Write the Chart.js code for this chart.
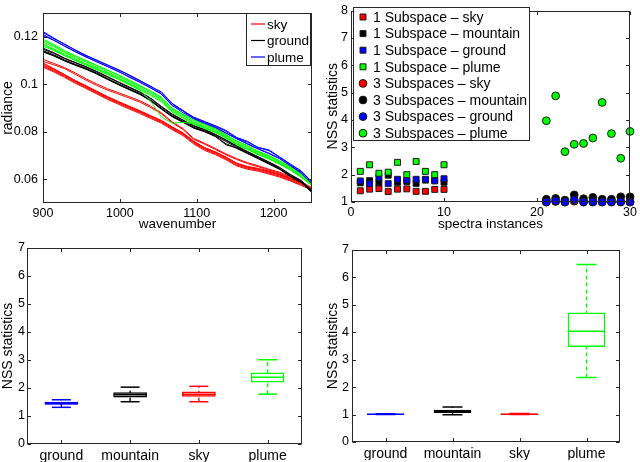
<!DOCTYPE html>
<html>
<head>
<meta charset="utf-8">
<script src="https://cdn.jsdelivr.net/npm/chart.js@4/dist/chart.umd.min.js"></script>
<style>
  html, body { margin: 0; padding: 0; background: #fff; }
  #fig { position: relative; width: 640px; height: 462px; overflow: hidden; }
  canvas { position: absolute; }
  #spectra { left: 0; top: 0; }
  #nss { left: 320px; top: 0; }
  #box1 { left: 0; top: 230px; background: #fff; }
  #box3 { left: 320px; top: 230px; background: #fff; }
</style>
</head>
<body>
<div id="fig">
  <canvas id="spectra" width="320" height="232"></canvas>
  <canvas id="nss" width="320" height="232"></canvas>
  <canvas id="box1" width="320" height="232"></canvas>
  <canvas id="box3" width="320" height="232"></canvas>
</div>
<script>
// ---- top left: radiance spectra ----
const waveNum = [900, 914, 928, 942, 956, 970, 984, 998, 1012, 1026, 1040, 1054, 1068,
  1082, 1096, 1110, 1124, 1138, 1152, 1166, 1180, 1194, 1208, 1222, 1236, 1250];
const waveTicks = [900, 1000, 1100, 1200];
const radTicks = [0.06, 0.08, 0.1, 0.12];
const radTickLabels = ['0.06', '0.08', '0.1', '0.12'];
const spectraLegend = ['sky', 'ground', 'plume'];

const skyLines = [
  [.1105, .1088, .1070, .1048, .1023, .1001, .0981, .0965, .0948, .0931, .0908, .0880, .0842, .0814, .0772, .0752, .0730, .0707, .0687, .0670, .0657, .0642, .0630, .0610, .0590, .0564],
  [.1096, .1082, .1066, .1042, .1017, .0995, .0975, .0959, .0942, .0925, .0902, .0876, .0838, .0810, .0768, .0748, .0726, .0703, .0683, .0666, .0653, .0638, .0626, .0606, .0586, .0560],
  [.1085, .1064, .1041, .1016, .0994, .0971, .0948, .0928, .0908, .0889, .0868, .0848, .0821, .0796, .0761, .0734, .0716, .0694, .0668, .0654, .0646, .0634, .0621, .0604, .0586, .0560],
  [.1080, .1060, .1037, .1012, .0990, .0967, .0944, .0924, .0904, .0885, .0864, .0844, .0817, .0792, .0757, .0730, .0712, .0690, .0664, .0650, .0642, .0630, .0617, .0600, .0582, .0558],
  [.1076, .1056, .1033, .1008, .0986, .0963, .0940, .0920, .0900, .0881, .0860, .0840, .0813, .0788, .0753, .0726, .0708, .0686, .0660, .0646, .0638, .0626, .0613, .0596, .0578, .0556],
  [.1072, .1052, .1029, .1004, .0982, .0959, .0936, .0916, .0896, .0877, .0856, .0836, .0809, .0784, .0749, .0722, .0704, .0682, .0656, .0642, .0634, .0622, .0609, .0592, .0574, .0554],
  [.1090, .1066, .1040, .1014, .0991, .0968, .0946, .0925, .0906, .0886, .0866, .0846, .0819, .0794, .0758, .0732, .0714, .0692, .0667, .0652, .0644, .0632, .0619, .0602, .0584, .0559]
];
const groundLines = [
  [.1148, .1130, .1108, .1090, .1072, .1052, .1030, .1008, .0986, .0966, .0940, .0904, .0872, .0848, .0824, .0808, .0788, .0764, .0738, .0715, .0693, .0671, .0648, .0618, .0593, .0550],
  [.1142, .1124, .1102, .1084, .1067, .1047, .1024, .1002, .0981, .0961, .0934, .0899, .0867, .0844, .0819, .0804, .0784, .0759, .0734, .0711, .0689, .0667, .0644, .0614, .0589, .0547],
  [.1136, .1119, .1098, .1080, .1063, .1043, .1020, .0998, .0977, .0957, .0930, .0895, .0863, .0840, .0815, .0800, .0780, .0750, .0730, .0708, .0686, .0664, .0641, .0611, .0586, .0544],
  [.1152, .1133, .1110, .1092, .1074, .1054, .1032, .1010, .0989, .0968, .0942, .0907, .0875, .0850, .0826, .0810, .0790, .0766, .0741, .0717, .0695, .0673, .0650, .0620, .0595, .0552],
  [.1139, .1121, .1100, .1082, .1065, .1045, .1022, .1000, .0979, .0959, .0932, .0897, .0865, .0842, .0817, .0802, .0782, .0745, .0732, .0710, .0688, .0666, .0643, .0613, .0588, .0545]
];
const greenLines = [
  [.1185, .1163, .1138, .1118, .1098, .1078, .1058, .1038, .1015, .0992, .0970, .0942, .0898, .0872, .0848, .0830, .0812, .0786, .0760, .0740, .0716, .0698, .0676, .0650, .0620, .0582],
  [.1178, .1158, .1133, .1112, .1093, .1072, .1052, .1032, .1010, .0987, .0964, .0937, .0892, .0868, .0842, .0824, .0807, .0782, .0754, .0734, .0712, .0694, .0672, .0647, .0617, .0579],
  [.1170, .1150, .1126, .1106, .1086, .1066, .1046, .1026, .1004, .0982, .0958, .0931, .0887, .0862, .0837, .0819, .0802, .0777, .0749, .0729, .0707, .0689, .0667, .0642, .0612, .0576],
  [.1165, .1146, .1122, .1102, .1084, .1064, .1045, .1024, .1000, .0975, .0930, .0862, .0836, .0840, .0834, .0816, .0800, .0775, .0748, .0727, .0705, .0686, .0665, .0640, .0610, .0574],
  [.1190, .1168, .1142, .1120, .1100, .1080, .1060, .1040, .1018, .0995, .0972, .0946, .0900, .0874, .0850, .0832, .0814, .0788, .0762, .0742, .0718, .0700, .0678, .0652, .0622, .0584],
  [.1160, .1142, .1120, .1100, .1080, .1060, .1040, .1020, .0998, .0976, .0953, .0926, .0882, .0857, .0832, .0814, .0797, .0772, .0745, .0725, .0703, .0685, .0663, .0638, .0608, .0572]
];
const plumeLines = [
  [.1218, .1192, .1170, .1143, .1120, .1102, .1080, .1062, .1038, .1015, .0992, .0965, .0918, .0888, .0862, .0842, .0826, .0806, .0776, .0760, .0733, .0720, .0693, .0664, .0635, .0588],
  [.1210, .1186, .1162, .1138, .1114, .1095, .1074, .1055, .1030, .1008, .0985, .0958, .0910, .0888, .0855, .0836, .0818, .0794, .0772, .0748, .0727, .0708, .0686, .0656, .0626, .0582],
  [.1222, .1195, .1168, .1145, .1122, .1100, .1082, .1060, .1040, .1016, .0990, .0968, .0920, .0890, .0860, .0844, .0824, .0802, .0774, .0756, .0734, .0724, .0694, .0662, .0632, .0590],
  [.1205, .1185, .1160, .1136, .1116, .1094, .1075, .1053, .1032, .1010, .0984, .0960, .0912, .0880, .0856, .0838, .0820, .0795, .0770, .0750, .0728, .0710, .0688, .0658, .0628, .0580]
];

// ---- top right: NSS statistics per spectrum ----
const inst1 = [1, 2, 3, 4, 5, 6, 7, 8, 9, 10];
const inst3 = [21, 22, 23, 24, 25, 26, 27, 28, 29, 30];
const nss1Sky = [1.41, 1.47, 1.49, 1.38, 1.47, 1.48, 1.39, 1.39, 1.46, 1.46];
const nss1Mountain = [1.70, 1.78, 1.70, 1.98, 1.72, 1.75, 1.68, 1.80, 1.80, 1.72];
const nss1Ground = [1.77, 1.67, 1.89, 1.67, 1.83, 1.80, 1.83, 1.83, 1.77, 1.85];
const nss1Plume = [2.12, 2.36, 2.05, 2.09, 2.45, 2.00, 2.48, 2.12, 2.00, 2.36];
const nss3Sky = [1.00, 1.02, 1.00, 1.03, 1.00, 1.00, 1.00, 1.00, 1.00, 1.00];
const nss3Mountain = [1.10, 1.13, 1.07, 1.26, 1.12, 1.17, 1.10, 1.10, 1.19, 1.19];
const nss3Ground = [1.00, 1.04, 1.00, 1.08, 1.00, 1.01, 1.00, 1.00, 1.01, 1.00];
const nss3Plume = [3.97, 4.88, 2.84, 3.11, 3.14, 3.34, 4.64, 3.50, 2.60, 3.58];
const instTicks = [0, 10, 20, 30];
const nssTicks = [1, 2, 3, 4, 5, 6, 7, 8];

// ---- bottom: box plots ----
const boxCats = ['ground', 'mountain', 'sky', 'plume'];
const boxTicks = [0, 1, 2, 3, 4, 5, 6, 7];
const lo1 = [1.31, 1.51, 1.51, 1.78];
const q1a = [1.41, 1.67, 1.70, 2.21];
const med1 = [1.45, 1.76, 1.78, 2.38];
const q3a = [1.50, 1.84, 1.86, 2.54];
const hi1 = [1.58, 2.03, 2.06, 3.01];
const lo3 = [1.00, 0.99, 1.00, 2.35];
const q1b = [1.00, 1.07, 1.00, 3.48];
const med3 = [1.01, 1.12, 1.01, 4.04];
const q3b = [1.02, 1.16, 1.03, 4.71];
const hi3 = [1.03, 1.28, 1.04, 6.47];

const RED = '#ff0000', BLACK = '#000000', BLUE = '#0000ff', GREEN = '#00ff00';
const boxColors = [BLUE, BLACK, RED, GREEN];
const FONT = '"Liberation Sans", Arial, Helvetica, sans-serif';

// legend entries per canvas (kept outside the chart options)
const legendItems = {
  spectra: spectraLegend.map((t, i) => ({ text: t, color: [RED, BLACK, BLUE][i], style: 'line' }))
};

Chart.defaults.font.family = FONT;
Chart.defaults.color = '#000';
Chart.defaults.animation = false;

// MATLAB style box with inward ticks on all four sides
const matlabAxes = {
  id: 'matlabAxes',
  afterDatasetsDraw(chart) {
    const { ctx, chartArea: a, scales } = chart;
    const len = 3.5;
    const L = Math.round(a.left) + .5, R = Math.round(a.right) - .5;
    const T = Math.round(a.top) + .5, B = Math.round(a.bottom) - .5;
    ctx.save();
    ctx.strokeStyle = '#262626';
    ctx.lineWidth = 1;
    ctx.beginPath();
    scales.x.ticks.forEach((t, i) => {
      const px = Math.round(scales.x.getPixelForTick(i)) + .5;
      ctx.moveTo(px, B); ctx.lineTo(px, B - len);
      ctx.moveTo(px, T); ctx.lineTo(px, T + len);
    });
    scales.y.ticks.forEach((t, i) => {
      const py = Math.round(scales.y.getPixelForTick(i)) + .5;
      ctx.moveTo(L, py); ctx.lineTo(L + len, py);
      ctx.moveTo(R, py); ctx.lineTo(R - len, py);
    });
    ctx.stroke();
    ctx.strokeRect(L, T, R - L, B - T);
    ctx.restore();
  }
};

// boxed legend drawn inside the axes
const matlabLegend = {
  id: 'matlabLegend',
  afterDraw(chart, args, o) {
    const ctx = chart.ctx;
    const items = legendItems[chart.canvas.id] || chart.data.datasets.filter(d => d.label).map(d => ({
      text: d.label, color: d.backgroundColor, style: d.pointStyle
    }));
    ctx.save();
    ctx.fillStyle = '#fff';
    ctx.fillRect(o.left, o.top, o.width, o.height);
    ctx.strokeStyle = '#262626';
    ctx.lineWidth = 1;
    ctx.strokeRect(o.left + .5, o.top + .5, o.width, o.height);
    ctx.font = o.fontSize + 'px ' + FONT;
    ctx.textBaseline = 'middle';
    items.forEach((it, i) => {
      const cy = o.top + o.firstRow + i * o.rowStep;
      if (it.style === 'line') {
        ctx.strokeStyle = it.color;
        ctx.lineWidth = 1.2;
        ctx.beginPath();
        ctx.moveTo(o.left + o.markerFrom, cy);
        ctx.lineTo(o.left + o.markerTo, cy);
        ctx.stroke();
      } else {
        ctx.fillStyle = it.color;
        ctx.strokeStyle = '#1a1a1a';
        ctx.lineWidth = 1;
        Chart.helpers.drawPoint(ctx, { pointStyle: it.style, radius: it.style === 'rect' ? 4.2 : 3.9, borderWidth: 1, rotation: 0 },
          o.left + o.markerFrom, cy);
      }
      ctx.fillStyle = '#000';
      ctx.fillText(it.text, o.left + o.textX, cy + 1);
    });
    ctx.restore();
  }
};

function tickList(list) {
  return s => { s.ticks = list.map(v => ({ value: v })); };
}

function axisX(extra, height, title, tickSize) {
  return Object.assign({
    afterFit: s => { s.height = height; },
    grid: { display: false, drawTicks: false },
    border: { display: false },
    ticks: { padding: 3, autoSkip: false, maxRotation: 0, font: { size: tickSize || 12.5 }, callback: v => String(v) },
    title: { display: !!title, text: title, padding: 0, font: { size: 13.5 } }
  }, extra);
}

function axisY(extra, width, pad, title, titlePad) {
  return Object.assign({
    afterFit: s => { s.width = width; },
    grid: { display: false, drawTicks: false },
    border: { display: false },
    ticks: { padding: pad, autoSkip: false, font: { size: 12.5 } },
    title: { display: true, text: title, padding: { top: titlePad, bottom: 0 }, font: { size: 14 } }
  }, extra);
}

const baseOpts = { responsive: false, events: [] };

// ---------- top left ----------
function lineSet(lines, color, order) {
  return lines.map(vals => ({
    data: waveNum.map((w, k) => ({ x: w, y: vals[k] })),
    borderColor: color, borderWidth: 1, pointRadius: 0, fill: false, order: order
  }));
}

new Chart(document.getElementById('spectra'), {
  type: 'line',
  data: {
    datasets: [].concat(
      lineSet(skyLines, RED, 4),
      lineSet(groundLines, BLACK, 3),
      lineSet(greenLines, GREEN, 2),
      lineSet(plumeLines, BLUE, 1)
    )
  },
  options: Object.assign({}, baseOpts, {
    layout: { padding: { top: 13, right: 8, left: 0, bottom: 0 } },
    plugins: {
      legend: { display: false }, tooltip: { enabled: false },
      matlabLegend: {
        left: 246, top: 13, width: 64, height: 52, firstRow: 11, rowStep: 16.5,
        markerFrom: 5, markerTo: 19, textX: 21, fontSize: 13.5
      }
    },
    scales: {
      x: axisX({ type: 'linear', min: 900, max: 1250, afterBuildTicks: tickList(waveTicks) }, 29, 'wavenumber'),
      y: axisY({
        min: 0.05, max: 0.13, afterBuildTicks: tickList(radTicks),
        ticks: { padding: 5, autoSkip: false, font: { size: 12.5 }, callback: (v, i) => radTickLabels[i] }
      }, 43, 5, 'radiance', 0)
    }
  }),
  plugins: [matlabAxes, matlabLegend]
});

// ---------- top right ----------
function scatterSet(label, xs, ys, color, style, order) {
  return {
    label: label,
    data: xs.map((x, i) => ({ x: x, y: ys[i] })),
    backgroundColor: color, borderColor: '#1a1a1a', borderWidth: 1,
    pointStyle: style, pointRadius: style === 'rect' ? 4.2 : 3.9, clip: false, order: order
  };
}

new Chart(document.getElementById('nss'), {
  type: 'scatter',
  data: {
    datasets: [
      scatterSet('1 Subspace – sky', inst1, nss1Sky, RED, 'rect', 8),
      scatterSet('1 Subspace – mountain', inst1, nss1Mountain, BLACK, 'rect', 7),
      scatterSet('1 Subspace – ground', inst1, nss1Ground, BLUE, 'rect', 6),
      scatterSet('1 Subspace – plume', inst1, nss1Plume, GREEN, 'rect', 5),
      scatterSet('3 Subspaces – sky', inst3, nss3Sky, RED, 'circle', 4),
      scatterSet('3 Subspaces – mountain', inst3, nss3Mountain, BLACK, 'circle', 3),
      scatterSet('3 Subspaces – ground', inst3, nss3Ground, BLUE, 'circle', 2),
      scatterSet('3 Subspaces – plume', inst3, nss3Plume, GREEN, 'circle', 1)
    ]
  },
  options: Object.assign({}, baseOpts, {
    layout: { padding: { top: 8, right: 8, left: 0, bottom: 0 } },
    plugins: {
      legend: { display: false }, tooltip: { enabled: false },
      matlabLegend: {
        left: 33, top: 7, width: 176, height: 133, firstRow: 10, rowStep: 16.6,
        markerFrom: 10, textX: 20, fontSize: 14
      }
    },
    scales: {
      x: axisX({ type: 'linear', min: 0, max: 30, afterBuildTicks: tickList(instTicks) }, 30, 'spectra instances'),
      y: axisY({ min: 1, max: 8, afterBuildTicks: tickList(nssTicks) }, 31, 3, 'NSS statistics', 4.6)
    }
  }),
  plugins: [matlabAxes, matlabLegend]
});

// ---------- bottom box plots ----------
function boxDatasets(lo, q1, med, q3, hi, boxW, capR) {
  const ds = [];
  boxCats.forEach((c, i) => {
    ds.push({
      type: 'line', data: [{ x: c, y: lo[i] }, { x: c, y: hi[i] }],
      borderColor: boxColors[i], borderWidth: 1.4, borderDash: [4, 3], pointRadius: 0, order: 3
    });
    ds.push({
      type: 'line', data: [{ x: c, y: lo[i] }, { x: c, y: hi[i] }], showLine: false,
      pointStyle: 'line', pointRadius: capR, pointBorderColor: boxColors[i], pointBorderWidth: 1.5, order: 1
    });
  });
  ds.push({
    type: 'bar', data: boxCats.map((c, i) => [q1[i], q3[i]]),
    backgroundColor: '#fff', borderColor: boxColors, borderWidth: 1.5, borderSkipped: false,
    barThickness: boxW, order: 2
  });
  ds.push({
    type: 'line', data: boxCats.map((c, i) => ({ x: c, y: med[i] })), showLine: false,
    pointStyle: 'line', pointRadius: boxW / 2, pointBorderColor: boxColors, pointBorderWidth: 1.5, order: 1
  });
  return ds;
}

function boxChart(id, sets, yWidth, yPad, padRight) {
  new Chart(document.getElementById(id), {
    type: 'bar',
    data: { labels: boxCats, datasets: sets },
    options: Object.assign({}, baseOpts, {
      layout: { padding: { top: 15, right: padRight, left: 0, bottom: 0 } },
      plugins: { legend: { display: false }, tooltip: { enabled: false } },
      scales: {
        x: axisX({ type: 'category', offset: true, ticks: { padding: 4, autoSkip: false, maxRotation: 0, font: { size: 14 } } }, 18, ''),
        y: axisY({ min: 0, max: 7, afterBuildTicks: tickList(boxTicks) }, yWidth, yPad, 'NSS statistics', yWidth > 30 ? 4.6 : 0)
      }
    }),
    plugins: [matlabAxes]
  });
}

boxChart('box1', boxDatasets(lo1, q1a, med1, q3a, hi1, 33, 9.5), 27, 2, 7);
boxChart('box3', boxDatasets(lo3, q1b, med3, q3b, hi3, 37, 10), 32, 3, 5);
</script>
</body>
</html>
